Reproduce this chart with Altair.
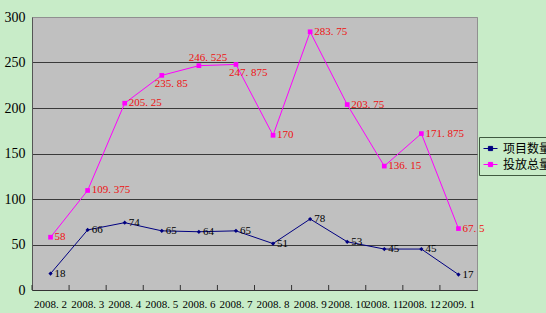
import altair as alt
import pandas as pd

months = ["2008.2", "2008.3", "2008.4", "2008.5", "2008.6", "2008.7",
          "2008.8", "2008.9", "2008.10", "2008.11", "2008.12", "2009.1"]
series_names = ["项目数量", "投放总量"]
projects = [18, 66, 74, 65, 64, 65, 51, 78, 53, 45, 45, 17]
investment = [58, 109.375, 205.25, 235.85, 246.525, 247.875, 170, 283.75,
              203.75, 136.15, 171.875, 67.5]
y_ticks = [0, 50, 100, 150, 200, 250, 300]

rows = []
for m, a, b in zip(months, projects, investment):
    rows.append({"month": m, "series": series_names[0], "value": a})
    rows.append({"month": m, "series": series_names[1], "value": b})
df = pd.DataFrame(rows)

W, H = 445, 273
BG = "#c8ecc8"
NAVY = "#000080"
MAG = "#ff00ff"
SERIF = "Liberation Serif"

x_enc = alt.X(
    "month:N", sort=months,
    scale=alt.Scale(type="band", paddingInner=0, paddingOuter=0),
    axis=alt.Axis(title=None, labelAngle=0, ticks=False, grid=False,
                  labelExpr="replace(datum.label, '.', '. ')",
                  labelFont=SERIF, labelFontSize=11, labelColor="#000",
                  labelPadding=8, domainColor="#333", labelOverlap=False),
)
y_enc = alt.Y(
    "value:Q", scale=alt.Scale(domain=[0, 300], nice=False),
    axis=alt.Axis(title=None, values=y_ticks, ticks=False, grid=True,
                  gridColor={"expr": "datum.value == 300 ? '#909090' : '#3a3a3a'"},
                  labelFont=SERIF, labelFontSize=14, labelColor="#000",
                  labelPadding=7, domainColor="#555"),
)

color = alt.Color(
    "series:N", scale=alt.Scale(domain=series_names, range=[NAVY, MAG]),
    legend=alt.Legend(
        title=None, orient="none", legendX=447, legendY=120,
        strokeColor="#405a40", fillColor=BG, padding=4,
        labelFont="Noto Sans CJK SC", labelFontSize=12, labelColor="#000",
        labelLimit=200,
        symbolType="M-1,0H1M-0.3,-0.3H0.3V0.3H-0.3Z", symbolSize=196,
        symbolStrokeWidth=1, labelOffset=5, rowPadding=2, cornerRadius=0,
        symbolFillColor={"expr": f"datum.value == '{series_names[0]}' ? '{NAVY}' : '{MAG}'"},
    ),
)

base = alt.Chart(df).encode(x=x_enc, y=y_enc)

s1 = series_names[0]
s2 = series_names[1]

lines = base.mark_line(strokeWidth=1).encode(color=color)

pts1 = base.transform_filter(f"datum.series == '{s1}'").mark_point(
    filled=True, size=18, opacity=1, shape="diamond", color=NAVY)
pts2 = base.transform_filter(f"datum.series == '{s2}'").mark_point(
    filled=True, size=22, opacity=1, shape="square", color=MAG)

lbl = base.transform_calculate(lbl="replace(toString(datum.value), '.', '. ')")

lab1 = lbl.transform_filter(f"datum.series == '{s1}'").mark_text(
    align="left", baseline="middle", dx=4, font=SERIF, fontSize=11, color="#000"
).encode(text="lbl:N")

lab2 = lbl.transform_filter(
    f"datum.series == '{s2}' && indexof(['2008.5','2008.6','2008.7'], datum.month) < 0"
).mark_text(align="left", baseline="middle", dx=4, font=SERIF, fontSize=11, color="#ee1111").encode(text="lbl:N")

lab_above = lbl.transform_filter(
    f"datum.series == '{s2}' && datum.month == '2008.6'"
).mark_text(align="center", baseline="middle", dx=9, dy=-8, font=SERIF, fontSize=11, color="#ee1111").encode(text="lbl:N")

lab_below = lbl.transform_filter(
    f"datum.series == '{s2}' && (datum.month == '2008.5' || datum.month == '2008.7')"
).mark_text(align="left", baseline="middle", dx=-7, dy=9, font=SERIF, fontSize=11, color="#ee1111").encode(text="lbl:N")

tick_rules = alt.Chart(pd.DataFrame({"month": months})).mark_rule(color="#333", strokeWidth=1).encode(
    x=alt.X("month:N", sort=months, bandPosition=0),
    y=alt.value(H - 5), y2=alt.value(H),
)

chart = alt.layer(lines, pts1, pts2, lab1, lab2, lab_above, lab_below, tick_rules).properties(
    width=W, height=H,
    autosize=alt.AutoSizeParams(type="none"),
    padding={"left": 32, "top": 17, "right": 69, "bottom": 23},
    background=BG,
).configure_view(fill="#c0c0c0", stroke="#909090", strokeWidth=1)

chart.save("out.html", embed_options={"renderer": "svg", "actions": False})
